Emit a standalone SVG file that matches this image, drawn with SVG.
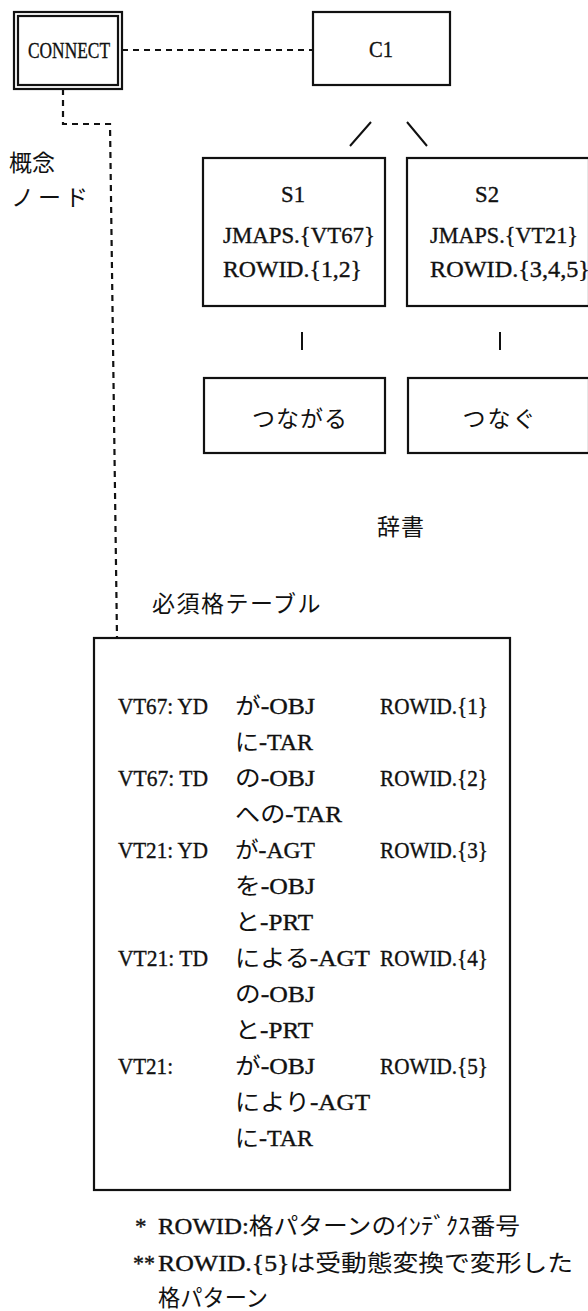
<svg xmlns="http://www.w3.org/2000/svg" width="588" height="1311" viewBox="0 0 588 1311">
<style>
.bx{fill:#fff;stroke:#111;stroke-width:2.2}
.ln{fill:none;stroke:#111;stroke-width:2}
.ds{fill:none;stroke:#111;stroke-width:2.2;stroke-dasharray:6 5}
.lt{font-family:"Liberation Serif","Noto Sans CJK JP",serif;font-size:23px;fill:#111;stroke:#111;stroke-width:0.35}
.lt .k{stroke:none}
.jp{font-family:"Noto Sans CJK JP","Liberation Serif",sans-serif;font-size:23px;fill:#111}
.mc{text-anchor:middle}
</style>
<rect width="588" height="1311" fill="#fff"/>
<g id="connectors">
<path class="ds" d="M122 50 H313"/>
<path class="ds" d="M63 89 V124 H110 L117 638"/>
<path class="ln" d="M350 146 L371 122 M407 122 L427 146"/>
<path class="ln" d="M302 332 V350 M500 332 V350"/>
</g>
<g id="connect">
<rect class="bx" x="14" y="12" width="108" height="77"/>
<rect class="bx" x="18" y="16" width="100" height="69"/>
<text class="lt" x="28" y="58" textLength="82" lengthAdjust="spacingAndGlyphs">CONNECT</text>
</g>
<g id="c1">
<rect class="bx" x="313" y="12" width="137" height="73"/>
<text class="lt" x="369" y="57" textLength="24" lengthAdjust="spacingAndGlyphs">C1</text>
</g>
<g id="label-concept">
<text class="jp" x="9" y="171">概念</text>
<text class="jp" x="11" y="206" font-size="21" letter-spacing="4">ノード</text>
</g>
<g id="s1">
<rect class="bx" x="203" y="158" width="182" height="148"/>
<text class="lt" x="281" y="202" textLength="24" lengthAdjust="spacingAndGlyphs">S1</text>
<text class="lt" x="223" y="243" textLength="152" lengthAdjust="spacingAndGlyphs">JMAPS.{VT67}</text>
<text class="lt" x="223" y="277" textLength="139" lengthAdjust="spacingAndGlyphs">ROWID.{1,2}</text>
</g>
<g id="s2">
<rect class="bx" x="407" y="158" width="182" height="148"/>
<text class="lt" x="475" y="202" textLength="24" lengthAdjust="spacingAndGlyphs">S2</text>
<text class="lt" x="430" y="243" textLength="148" lengthAdjust="spacingAndGlyphs">JMAPS.{VT21}</text>
<text class="lt" x="430" y="277" textLength="160" lengthAdjust="spacingAndGlyphs">ROWID.{3,4,5}</text>
</g>
<g id="w1">
<rect class="bx" x="204" y="378" width="181" height="75"/>
<text class="jp mc" x="300" y="427" letter-spacing="1">つながる</text>
</g>
<g id="w2">
<rect class="bx" x="408" y="378" width="181" height="75"/>
<text class="jp mc" x="500" y="427" letter-spacing="2">つなぐ</text>
</g>
<text class="jp" x="377" y="535" letter-spacing="1">辞書</text>
<text class="jp" x="152" y="612" letter-spacing="1.5">必須格テーブル</text>
<g id="table">
<rect class="bx" x="94" y="638" width="416" height="552"/>
<g class="lt">
<text x="118" y="714" textLength="90" lengthAdjust="spacingAndGlyphs">VT67: YD</text><text x="235" y="714" textLength="80" lengthAdjust="spacingAndGlyphs"><tspan class="k">が</tspan>-OBJ</text><text x="380" y="714" textLength="108" lengthAdjust="spacingAndGlyphs">ROWID.{1}</text>
<text x="235" y="750" textLength="78" lengthAdjust="spacingAndGlyphs"><tspan class="k">に</tspan>-TAR</text>
<text x="118" y="786" textLength="90" lengthAdjust="spacingAndGlyphs">VT67: TD</text><text x="235" y="786" textLength="80" lengthAdjust="spacingAndGlyphs"><tspan class="k">の</tspan>-OBJ</text><text x="380" y="786" textLength="108" lengthAdjust="spacingAndGlyphs">ROWID.{2}</text>
<text x="235" y="822" textLength="107" lengthAdjust="spacingAndGlyphs"><tspan class="k">への</tspan>-TAR</text>
<text x="118" y="858" textLength="90" lengthAdjust="spacingAndGlyphs">VT21: YD</text><text x="235" y="858" textLength="80" lengthAdjust="spacingAndGlyphs"><tspan class="k">が</tspan>-AGT</text><text x="380" y="858" textLength="108" lengthAdjust="spacingAndGlyphs">ROWID.{3}</text>
<text x="235" y="894" textLength="80" lengthAdjust="spacingAndGlyphs"><tspan class="k">を</tspan>-OBJ</text>
<text x="235" y="930" textLength="78" lengthAdjust="spacingAndGlyphs"><tspan class="k">と</tspan>-PRT</text>
<text x="118" y="966" textLength="90" lengthAdjust="spacingAndGlyphs">VT21: TD</text><text x="235" y="966" textLength="135" lengthAdjust="spacingAndGlyphs"><tspan class="k">による</tspan>-AGT</text><text x="380" y="966" textLength="108" lengthAdjust="spacingAndGlyphs">ROWID.{4}</text>
<text x="235" y="1002" textLength="80" lengthAdjust="spacingAndGlyphs"><tspan class="k">の</tspan>-OBJ</text>
<text x="235" y="1038" textLength="78" lengthAdjust="spacingAndGlyphs"><tspan class="k">と</tspan>-PRT</text>
<text x="118" y="1074" textLength="55" lengthAdjust="spacingAndGlyphs">VT21:</text><text x="235" y="1074" textLength="80" lengthAdjust="spacingAndGlyphs"><tspan class="k">が</tspan>-OBJ</text><text x="380" y="1074" textLength="108" lengthAdjust="spacingAndGlyphs">ROWID.{5}</text>
<text x="235" y="1110" textLength="135" lengthAdjust="spacingAndGlyphs"><tspan class="k">により</tspan>-AGT</text>
<text x="235" y="1146" textLength="78" lengthAdjust="spacingAndGlyphs"><tspan class="k">に</tspan>-TAR</text>
</g>
</g>
<g id="notes" class="lt">
<text x="135" y="1234">*</text><text x="158" y="1234" textLength="362" lengthAdjust="spacingAndGlyphs">ROWID:<tspan class="k">格パターンのｲﾝﾃﾞｸｽ番号</tspan></text>
<text x="133" y="1271" textLength="22" lengthAdjust="spacingAndGlyphs">**</text><text x="158" y="1271" textLength="415" lengthAdjust="spacingAndGlyphs">ROWID.{5}<tspan class="k">は受動態変換で変形した</tspan></text>
<text x="158" y="1306" textLength="110" lengthAdjust="spacingAndGlyphs"><tspan class="k">格パターン</tspan></text>
</g>
</svg>
